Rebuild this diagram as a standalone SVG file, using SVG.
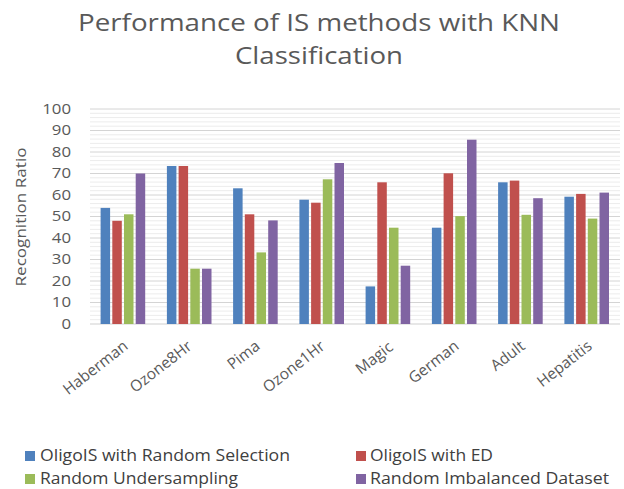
<svg xmlns="http://www.w3.org/2000/svg" width="624" height="489" viewBox="0 0 624 489">
  <style>
    .title { font-family: "Open Sans", "Liberation Sans", sans-serif; font-size: 23px; fill: #595959; text-anchor: middle; }
    .tick { font-family: "Open Sans", "Liberation Sans", sans-serif; font-size: 14px; fill: #595959; text-anchor: end; }
    .cat { font-family: "Open Sans", "Liberation Sans", sans-serif; font-size: 15.5px; fill: #595959; text-anchor: end; }
    .axt { font-family: "Open Sans", "Liberation Sans", sans-serif; font-size: 14.5px; fill: #595959; text-anchor: middle; }
    .leg { font-family: "Open Sans", "Liberation Sans", sans-serif; font-size: 16px; fill: #404040; }
    .s1 { fill: #4f81bd; }
    .s2 { fill: #c0504d; }
    .s3 { fill: #9bbb59; }
    .s4 { fill: #8064a2; }
  </style>
  <rect width="624" height="489" fill="#ffffff"/>

  <!-- chart title -->
  <g id="title">
    <text class="title" x="319" y="31" textLength="482" lengthAdjust="spacingAndGlyphs">Performance of IS methods with KNN</text>
    <text class="title" x="319" y="64" textLength="168" lengthAdjust="spacingAndGlyphs">Classification</text>
  </g>

  <!-- gridlines -->
  <g id="grid" fill="none">
    <path stroke="#ececec" stroke-width="1" d="M90 319.7H620M90 315.4H620M90 311.1H620M90 306.8H620M90 298.2H620M90 293.9H620M90 289.6H620M90 285.3H620M90 276.7H620M90 272.4H620M90 268.1H620M90 263.8H620M90 255.2H620M90 250.9H620M90 246.6H620M90 242.3H620M90 233.7H620M90 229.4H620M90 225.1H620M90 220.8H620M90 212.2H620M90 207.9H620M90 203.6H620M90 199.3H620M90 190.7H620M90 186.4H620M90 182.1H620M90 177.8H620M90 169.2H620M90 164.9H620M90 160.6H620M90 156.3H620M90 147.7H620M90 143.4H620M90 139.1H620M90 134.8H620M90 126.2H620M90 121.9H620M90 117.6H620M90 113.3H620"/>
    <path stroke="#d4d4d4" stroke-width="1" d="M90 302.5H620M90 281H620M90 259.5H620M90 238H620M90 216.5H620M90 195H620M90 173.5H620M90 152H620M90 130.5H620M90 109H620"/>
    <path stroke="#d0d0d0" stroke-width="1.2" d="M90 324H620"/>
  </g>

  <!-- y axis: tick values widened to the chart's proportions -->
  <g id="y-axis">
    <g transform="translate(71 0) scale(1.2 1) translate(-71 0)">
      <text class="tick" x="71" y="329">0</text>
      <text class="tick" x="71" y="307.5">10</text>
      <text class="tick" x="71" y="286">20</text>
      <text class="tick" x="71" y="264.5">30</text>
      <text class="tick" x="71" y="243">40</text>
      <text class="tick" x="71" y="221.5">50</text>
      <text class="tick" x="71" y="200">60</text>
      <text class="tick" x="71" y="178.5">70</text>
      <text class="tick" x="71" y="157">80</text>
      <text class="tick" x="71" y="135.5">90</text>
      <text class="tick" x="71" y="114">100</text>
    </g>
    <text class="axt" transform="translate(26 217) rotate(-90)" textLength="139" lengthAdjust="spacingAndGlyphs">Recognition Ratio</text>
  </g>

  <!-- bars, one group per dataset -->
  <g id="haberman">
    <rect class="s1" x="100.6" y="207.9" width="9.5" height="116.1"/>
    <rect class="s2" x="112.3" y="220.8" width="9.5" height="103.2"/>
    <rect class="s3" x="124.0" y="214.3" width="9.5" height="109.7"/>
    <rect class="s4" x="135.7" y="173.5" width="9.5" height="150.5"/>
    <text class="cat" transform="translate(129 348) rotate(-38)">Haberman</text>
  </g>
  <g id="ozone8hr">
    <rect class="s1" x="166.9" y="166.0" width="9.5" height="158.0"/>
    <rect class="s2" x="178.6" y="166.0" width="9.5" height="158.0"/>
    <rect class="s3" x="190.3" y="268.7" width="9.5" height="55.3"/>
    <rect class="s4" x="202.0" y="268.7" width="9.5" height="55.3"/>
    <text class="cat" transform="translate(193 348) rotate(-38)">Ozone8Hr</text>
  </g>
  <g id="pima">
    <rect class="s1" x="233.1" y="188.3" width="9.5" height="135.7"/>
    <rect class="s2" x="244.8" y="214.3" width="9.5" height="109.7"/>
    <rect class="s3" x="256.5" y="252.4" width="9.5" height="71.6"/>
    <rect class="s4" x="268.2" y="220.4" width="9.5" height="103.6"/>
    <text class="cat" transform="translate(261 348) rotate(-38)">Pima</text>
  </g>
  <g id="ozone1hr">
    <rect class="s1" x="299.4" y="199.7" width="9.5" height="124.3"/>
    <rect class="s2" x="311.1" y="202.7" width="9.5" height="121.3"/>
    <rect class="s3" x="322.8" y="179.3" width="9.5" height="144.7"/>
    <rect class="s4" x="334.5" y="163.0" width="9.5" height="161.0"/>
    <text class="cat" transform="translate(326 348) rotate(-38)">Ozone1Hr</text>
  </g>
  <g id="magic">
    <rect class="s1" x="365.6" y="286.4" width="9.5" height="37.6"/>
    <rect class="s2" x="377.3" y="182.3" width="9.5" height="141.7"/>
    <rect class="s3" x="389.0" y="227.7" width="9.5" height="96.3"/>
    <rect class="s4" x="400.7" y="265.7" width="9.5" height="58.3"/>
    <text class="cat" transform="translate(394 349) rotate(-38)">Magic</text>
  </g>
  <g id="german">
    <rect class="s1" x="431.9" y="227.7" width="9.5" height="96.3"/>
    <rect class="s2" x="443.6" y="173.3" width="9.5" height="150.7"/>
    <rect class="s3" x="455.3" y="216.1" width="9.5" height="107.9"/>
    <rect class="s4" x="467.0" y="139.7" width="9.5" height="184.3"/>
    <text class="cat" transform="translate(460 348) rotate(-38)">German</text>
  </g>
  <g id="adult">
    <rect class="s1" x="498.1" y="182.3" width="9.5" height="141.7"/>
    <rect class="s2" x="509.8" y="180.6" width="9.5" height="143.4"/>
    <rect class="s3" x="521.5" y="214.8" width="9.5" height="109.2"/>
    <rect class="s4" x="533.2" y="198.2" width="9.5" height="125.8"/>
    <text class="cat" transform="translate(526 348) rotate(-38)">Adult</text>
  </g>
  <g id="hepatitis">
    <rect class="s1" x="564.4" y="196.7" width="9.5" height="127.3"/>
    <rect class="s2" x="576.1" y="193.9" width="9.5" height="130.1"/>
    <rect class="s3" x="587.8" y="218.6" width="9.5" height="105.4"/>
    <rect class="s4" x="599.5" y="192.6" width="9.5" height="131.4"/>
    <text class="cat" transform="translate(593 348) rotate(-38)">Hepatitis</text>
  </g>

  <!-- legend -->
  <g id="legend">
    <rect class="s1" x="25" y="451" width="10" height="10"/>
    <text class="leg" x="40" y="461" textLength="250" lengthAdjust="spacingAndGlyphs">OligoIS with Random Selection</text>
    <rect class="s2" x="356" y="451" width="10" height="10"/>
    <text class="leg" x="370" y="461" textLength="123" lengthAdjust="spacingAndGlyphs">OligoIS with ED</text>
    <rect class="s3" x="25" y="474" width="10" height="10"/>
    <text class="leg" x="40" y="484" textLength="198" lengthAdjust="spacingAndGlyphs">Random Undersampling</text>
    <rect class="s4" x="356" y="474" width="10" height="10"/>
    <text class="leg" x="370" y="484" textLength="239" lengthAdjust="spacingAndGlyphs">Random Imbalanced Dataset</text>
  </g>
</svg>
